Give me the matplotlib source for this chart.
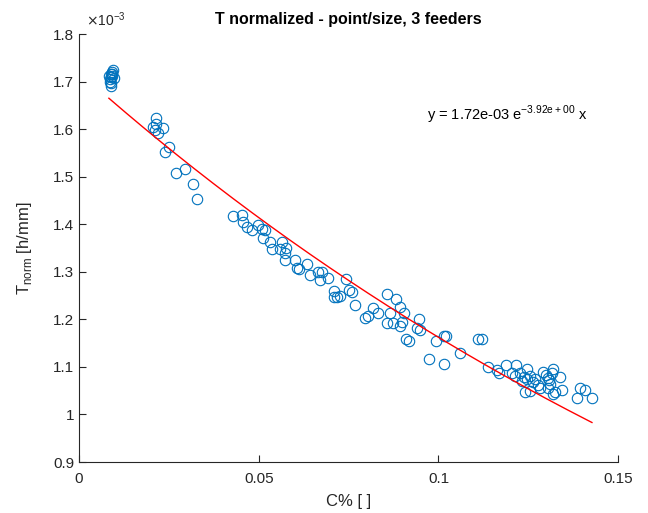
import numpy as np
import matplotlib
matplotlib.use("Agg")
import matplotlib.pyplot as plt
from matplotlib.ticker import FuncFormatter

plt.rcParams['font.family'] = ['Liberation Sans', 'DejaVu Sans']

# C% values and normalized T (in units of 1e-3 h/mm)
c_pct = [
    0.0085, 0.0090, 0.0092, 0.0088, 0.0095, 0.0087, 0.0090, 0.0093, 0.0083, 0.0096, 0.0089, 0.0091,
    0.0213, 0.0206, 0.0234, 0.0212, 0.0219, 0.0215, 0.0249, 0.0238, 0.0269, 0.0295, 0.0317, 0.0329,
    0.0427, 0.0453, 0.0457, 0.0467, 0.0481, 0.0499, 0.0508, 0.0518, 0.0513, 0.0532, 0.0536, 0.0564,
    0.0559, 0.0573, 0.0576, 0.0573, 0.0601, 0.0606, 0.0612, 0.0635, 0.0643, 0.0666, 0.0675, 0.0670,
    0.0694, 0.0708, 0.0743, 0.0750, 0.0708, 0.0717, 0.0726, 0.0768, 0.0759, 0.0796, 0.0805, 0.0819,
    0.0833, 0.0856, 0.0882, 0.0893, 0.0866, 0.0903, 0.0856, 0.0873, 0.0898, 0.0893, 0.0947, 0.0940,
    0.0949, 0.0910, 0.0919, 0.0994, 0.1014, 0.1021, 0.0973, 0.1016, 0.1061, 0.1111, 0.1120, 0.1139,
    0.1162, 0.1167, 0.1188, 0.1216, 0.1204, 0.1227, 0.1246, 0.1237, 0.1246, 0.1255, 0.1241, 0.1255,
    0.1269, 0.1283, 0.1290, 0.1299, 0.1304, 0.1315, 0.1320, 0.1311, 0.1304, 0.1325, 0.1320, 0.1343,
    0.1339, 0.1394, 0.1408, 0.1385, 0.1427, 0.1232, 0.1262, 0.1278, 0.1308, 0.1212,
]
t_norm = [
    1.705, 1.710, 1.720, 1.715, 1.725, 1.700, 1.690, 1.712, 1.712, 1.708, 1.698, 1.716,
    1.623, 1.605, 1.603, 1.598, 1.591, 1.610, 1.562, 1.552, 1.507, 1.517, 1.484, 1.453,
    1.418, 1.419, 1.405, 1.395, 1.388, 1.398, 1.391, 1.388, 1.370, 1.363, 1.347, 1.363,
    1.347, 1.339, 1.351, 1.325, 1.325, 1.307, 1.305, 1.316, 1.293, 1.300, 1.300, 1.283,
    1.286, 1.259, 1.284, 1.262, 1.248, 1.248, 1.249, 1.230, 1.258, 1.202, 1.206, 1.223,
    1.213, 1.253, 1.242, 1.227, 1.214, 1.214, 1.193, 1.193, 1.195, 1.185, 1.200, 1.181,
    1.178, 1.158, 1.154, 1.154, 1.166, 1.166, 1.116, 1.107, 1.129, 1.158, 1.158, 1.100,
    1.093, 1.087, 1.104, 1.104, 1.087, 1.087, 1.095, 1.078, 1.074, 1.081, 1.048, 1.050,
    1.074, 1.055, 1.090, 1.083, 1.077, 1.087, 1.095, 1.065, 1.055, 1.048, 1.043, 1.051,
    1.078, 1.055, 1.051, 1.034, 1.034, 1.070, 1.068, 1.062, 1.072, 1.080,
]

# fitted exponential y = a * exp(b * x)
fit_a = 1.72e-3
fit_b = -3.92

x = np.array(c_pct)
y = np.array(t_norm) * 1e-3

fig = plt.figure(figsize=(6.48, 5.13), dpi=100)
ax = fig.add_axes([0.122, 0.0994, 0.832, 0.8343])

ax.plot(x, y, 'o', mfc='none', mec='#0072BD', ms=7.5, mew=0.8)
xf = np.linspace(x.min(), x.max(), 200)
ax.plot(xf, fit_a * np.exp(fit_b * xf), color='r', lw=1)

ax.set_xlim(0, 0.15)
ax.set_ylim(0.9e-3, 1.8e-3)
ax.set_xticks([0, 0.05, 0.1, 0.15])
ax.set_yticks(np.arange(0.9, 1.81, 0.1) * 1e-3)
ax.xaxis.set_major_formatter(FuncFormatter(lambda v, p: '%g' % round(v, 4)))
ax.yaxis.set_major_formatter(FuncFormatter(lambda v, p: '%g' % round(v * 1e3, 3)))
ax.text(0.012, 1.012, r'$\times$10$^{\mathregular{-3}}$', transform=ax.transAxes,
        fontsize=10, ha='left', va='bottom', color='#262626')

for s in ['top', 'right']:
    ax.spines[s].set_visible(False)
for s in ['left', 'bottom']:
    ax.spines[s].set_color('#262626')
    ax.spines[s].set_linewidth(0.8)
ax.tick_params(direction='in', length=5, width=0.8, colors='#262626', labelsize=11,
               labelcolor='#262626')
ax.tick_params(axis='x', pad=7)

ax.set_title('T normalized - point/size, 3 feeders', fontsize=11.5, fontweight='bold', pad=7)
ax.set_xlabel('C% [ ]', fontsize=12, color='#262626', labelpad=6)
ax.set_ylabel(r'T$_{\mathregular{norm}}$ [h/mm]', fontsize=12, color='#262626', labelpad=14)

ax.text(0.0969, 1.63e-3, r'y = 1.72e-03 e$^{\mathregular{-3.92e+00}}$ x', fontsize=10.5,
        ha='left', va='center')

fig.savefig('out.png', dpi=100)
